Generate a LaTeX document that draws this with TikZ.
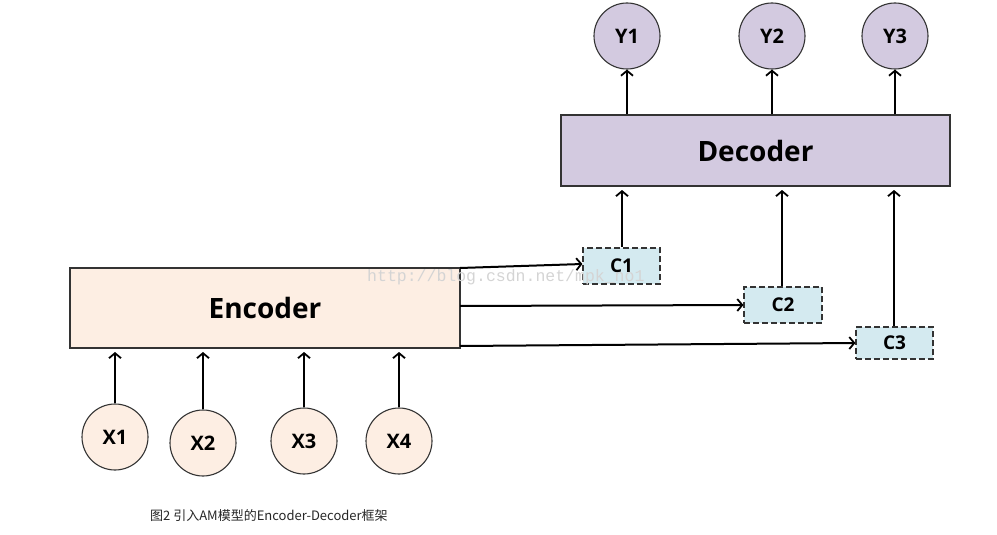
\documentclass[tikz,border=0pt]{standalone}
\usepackage{fontspec}
\setmainfont{Open Sans}
\newfontfamily\cjk{Noto Sans CJK SC}
\newfontfamily\wmfont{Liberation Mono}
\usetikzlibrary{arrows.meta}
\definecolor{encfill}{HTML}{FDEEE3}
\definecolor{decfill}{HTML}{D3CAE0}
\definecolor{cfill}{HTML}{D4EAF0}
\definecolor{edge}{HTML}{333333}
\begin{document}
\begin{tikzpicture}[x=1pt,y=-1pt,
  bigbox/.style={draw=edge,line width=1.3pt,inner sep=0pt,font=\bfseries\fontsize{28}{30}\selectfont},
  xnode/.style={circle,draw=edge,line width=1.1pt,fill=encfill,minimum size=66pt,inner sep=0pt,font=\bfseries\fontsize{20}{22}\selectfont},
  ynode/.style={circle,draw=edge,line width=1.1pt,fill=decfill,minimum size=66pt,inner sep=0pt,font=\bfseries\fontsize{20}{22}\selectfont},
  cnode/.style={draw=edge,dash pattern=on 6pt off 3pt,line width=1.1pt,fill=cfill,inner sep=0pt,font=\bfseries\fontsize{19}{21}\selectfont},
  arr/.style={line width=2pt,-{Straight Barb[length=5pt,width=12pt,line width=1.8pt]}}
]
\useasboundingbox (0,0) rectangle (997,535);
% boxes
\node[bigbox,fill=encfill,minimum width=390pt,minimum height=80pt] (enc) at (265,308) {Encoder};
\node[bigbox,fill=decfill,minimum width=389pt,minimum height=71pt] (dec) at (755.5,150.5) {Decoder};
% inputs
\node[xnode] (x1) at (115,437) {X1};
\node[xnode] (x2) at (203,443) {X2};
\node[xnode] (x3) at (304,441) {X3};
\node[xnode] (x4) at (399,441) {X4};
% outputs
\node[ynode] (y1) at (627,36) {Y1};
\node[ynode] (y2) at (772,36) {Y2};
\node[ynode] (y3) at (895,36) {Y3};
% context
\node[cnode,minimum width=77pt,minimum height=36pt] (c1) at (621.5,266) {C1};
\node[cnode,minimum width=78pt,minimum height=36pt] (c2) at (783,305) {C2};
\node[cnode,minimum width=77pt,minimum height=32pt] (c3) at (894.5,343) {C3};
% watermark
\node[text=black!17,font=\wmfont\fontsize{16.5}{18}\selectfont,anchor=west,inner sep=0pt] (wm) at (367,277) {http://blog.csdn.net/mpk\_no1};
% arrows X -> encoder
\coordinate (e1) at (115,352);
\coordinate (e2) at (203,352);
\coordinate (e3) at (304,352);
\coordinate (e4) at (399,352);
\draw[arr] (x1.north) -- (e1);
\draw[arr] (x2.north) -- (e2);
\draw[arr] (x3.north) -- (e3);
\draw[arr] (x4.north) -- (e4);
% decoder -> Y
\draw[arr] (dec.north -| y1) -- (y1.south);
\draw[arr] (dec.north -| y2) -- (y2.south);
\draw[arr] (dec.north -| y3) -- (y3.south);
% C -> decoder
\coordinate (d1) at (622,190);
\coordinate (d2) at (782,190);
\coordinate (d3) at (894,190);
\draw[arr] (c1.north -| d1) -- (d1);
\draw[arr] (c2.north -| d2) -- (d2);
\draw[arr] (c3.north -| d3) -- (d3);
% encoder -> C
\coordinate (s1) at (460,268);
\coordinate (s2) at (460,306);
\coordinate (s3) at (460,346);
\draw[arr] (s1) -- (c1.west |- 0,264);
\draw[arr] (s2) -- (c2.west |- 0,305);
\draw[arr] (s3) -- (c3.west |- 0,343);
% caption
\node[font=\cjk\fontsize{13}{15}\selectfont,anchor=west,inner sep=0pt,text=black!85] (cap) at (150,516) {图2 引入AM模型的Encoder-Decoder框架};
\end{tikzpicture}
\end{document}
